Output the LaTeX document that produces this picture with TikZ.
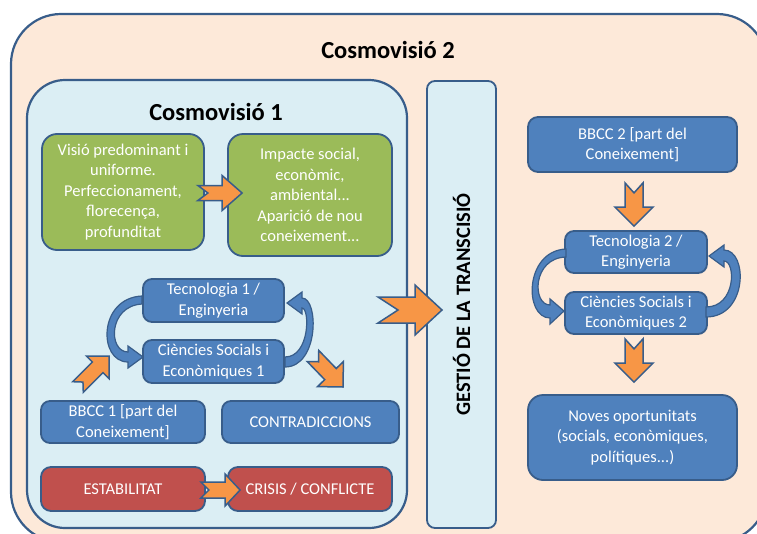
\documentclass[tikz,border=0pt]{standalone}
\usepackage{fontspec}
\setmainfont{Carlito}
\usetikzlibrary{calc}

\definecolor{edgeblue}{HTML}{385D8A}
\definecolor{peach}{HTML}{FDE9D9}
\definecolor{paleblue}{HTML}{DBEEF4}
\definecolor{leaf}{HTML}{9BBB59}
\definecolor{steel}{HTML}{4F81BD}
\definecolor{brick}{HTML}{C0504D}
\definecolor{amber}{HTML}{F79646}

\tikzset{
  box/.style={draw=edgeblue, line width=1.8pt, text=white, align=center,
    inner sep=0pt, font=\fontsize{16.5}{20.5}\selectfont},
  greenbox/.style={box, fill=leaf, rounded corners=15pt},
  bluebox/.style={box, fill=steel, rounded corners=9pt},
  redbox/.style={box, fill=brick, rounded corners=10pt},
  panel/.style={draw=edgeblue, line width=2.2pt},
  heading/.style={font=\bfseries\fontsize{24.5}{28}\selectfont},
  orangearrow/.style={fill=amber, draw=edgeblue, line width=1.5pt, line join=miter},
  bentarrow/.style={fill=steel, draw=edgeblue, line width=1.2pt},
}

% block arrow with a notched tail:
% #1 tail, #2 tip, #3 shaft half width, #4 head half width, #5 head length, #6 notch depth
\newcommand{\blockarrow}[6]{%
  \coordinate (ba-base) at ($(#2)!#5!(#1)$);
  \path[orangearrow]
    ($(#1)!#3!90:(#2)$) -- ($(ba-base)!#3!90:(#2)$) -- ($(ba-base)!#4!90:(#2)$)
    -- (#2)
    -- ($(ba-base)!#4!-90:(#2)$) -- ($(ba-base)!#3!-90:(#2)$) -- ($(#1)!#3!-90:(#2)$)
    -- ($(#1)!#6!(#2)$) -- cycle;
}

\begin{document}
\begin{tikzpicture}[x=1pt,y=-1pt]
\useasboundingbox (0,0) rectangle (757,533);
\clip (0,0) rectangle (757,533);

% outer world view and the first one inside it
\path[panel, fill=peach, rounded corners=50pt] (11,14) rectangle (767,542);
\path[panel, fill=paleblue, rounded corners=38pt] (27,80) rectangle (407,528);

\node[heading] (cv2) at (388,50) {Cosmovisió 2};
\node[heading] (cv1) at (216,112) {Cosmovisió 1};

% transition column
\node[draw=edgeblue, line width=1.8pt, fill=paleblue, rounded corners=8pt,
      rotate=90, minimum width=447pt, minimum height=69pt, inner sep=0pt,
      font=\bfseries\fontsize{20.5}{24}\selectfont] (gestio) at (461.5,304.5)
      {GESTIÓ DE LA TRANSCISIÓ};

% first world view
\node[greenbox, minimum width=162pt, minimum height=116pt] (g1) at (123,192)
  {Visió predominant i\\uniforme.\\Perfeccionament,\\florecença,\\profunditat};
\node[greenbox, minimum width=164pt, minimum height=122pt] (g2) at (310,195)
  {Impacte social,\\econòmic,\\ambiental...\\Aparició de nou\\coneixement...};

\node[bluebox, minimum width=141pt, minimum height=43pt] (t1) at (213.5,300.5)
  {Tecnologia 1 /\\Enginyeria};
\node[bluebox, minimum width=141pt, minimum height=43pt] (c1) at (213.5,361.5)
  {Ciències Socials i\\Econòmiques 1};
\node[bluebox, minimum width=164pt, minimum height=42pt] (b1) at (123,422)
  {BBCC 1 [part del\\Coneixement]};
\node[bluebox, minimum width=177pt, minimum height=42pt] (ct) at (310.5,422)
  {CONTRADICCIONS};
\node[redbox, minimum width=164pt, minimum height=44pt] (st) at (123,489)
  {ESTABILITAT};
\node[redbox, minimum width=164pt, minimum height=44pt] (cr) at (310,489)
  {CRISIS / CONFLICTE};

% second world view
\node[bluebox, minimum width=209pt, minimum height=55pt, rounded corners=10pt] (b2)
  at (632.5,144.5) {BBCC 2 [part del\\Coneixement]};
\node[bluebox, minimum width=142pt, minimum height=42pt] (t2) at (636,252)
  {Tecnologia 2 /\\Enginyeria};
\node[bluebox, minimum width=142pt, minimum height=42pt] (c2) at (636,313)
  {Ciències Socials i\\Econòmiques 2};
\node[bluebox, minimum width=209pt, minimum height=85pt, rounded corners=15pt] (nv)
  at (632.5,437.5) {Noves oportunitats\\(socials, econòmiques,\\polítiques...)};

% feedback loops between technology and social sciences
\path[bentarrow] (142,296) .. controls (98,298) and (98,362) .. (128,362)
  -- (128,368) -- (143,357) -- (128,346) -- (128,352)
  .. controls (108,352) and (108,306) .. (142,304) -- cycle;
\path[bentarrow] (285,367) .. controls (319,367) and (319,298) .. (302,298)
  -- (302,292) -- (287,303) -- (302,314) -- (302,308)
  .. controls (310,308) and (310,357) .. (285,357) -- cycle;
\path[bentarrow] (566,249) .. controls (524,251) and (524,318) .. (550,318)
  -- (550,324) -- (564,311) -- (550,299) -- (550,305)
  .. controls (532,305) and (532,258) .. (566,257) -- cycle;
\path[bentarrow] (706,317) .. controls (748,317) and (748,250) .. (724,250)
  -- (724,245) -- (709,256) -- (724,267) -- (724,261)
  .. controls (736,261) and (736,307) .. (706,307) -- cycle;

% orange block arrows
\coordinate (a1t) at ($(g1.east)+(-7,1)$);   \coordinate (a1h) at ($(g2.west)+(15,-2)$);
\coordinate (a2t) at ($(st.east)+(-5,1)$);   \coordinate (a2h) at ($(cr.west)+(13,1)$);
\coordinate (a3t) at (78,387);               \coordinate (a3h) at (109,356);
\coordinate (a4t) at (313,356);              \coordinate (a4h) at (343,387);
\coordinate (a5t) at (378,310);              \coordinate (a5h) at (442,310);
\coordinate (a6t) at ($(b2.south)+(1.5,10)$); \coordinate (a6h) at ($(t2.north)+(-2,-4)$);
\coordinate (a7t) at ($(c2.south)+(-2,4)$);  \coordinate (a7h) at ($(nv.north)+(1.5,-12)$);

\blockarrow{a1t}{a1h}{7.5pt}{17.5pt}{20pt}{10pt}
\blockarrow{a2t}{a2h}{8pt}{16pt}{15pt}{8pt}
\blockarrow{a3t}{a3h}{7.5pt}{16pt}{16pt}{7pt}
\blockarrow{a4t}{a4h}{8pt}{18pt}{18pt}{8pt}
\blockarrow{a5t}{a5h}{13pt}{25pt}{27pt}{20pt}
\blockarrow{a6t}{a6h}{9pt}{19pt}{19pt}{10pt}
\blockarrow{a7t}{a7h}{9pt}{19pt}{19pt}{10pt}

\end{tikzpicture}
\end{document}
